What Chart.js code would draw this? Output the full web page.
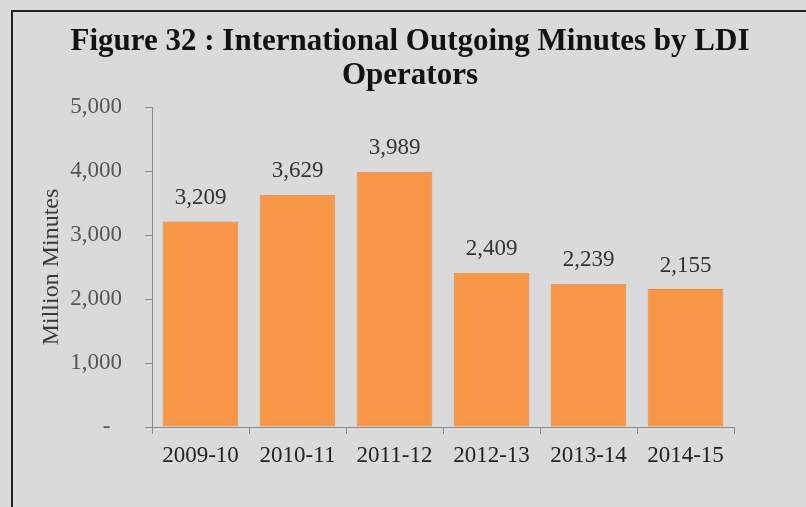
<!DOCTYPE html>
<html>
<head>
<meta charset="utf-8">
<title>International Outgoing Minutes by LDI Operators</title>
<script src="https://cdn.jsdelivr.net/npm/chart.js@4"></script>
<style>
  html, body { margin: 0; padding: 0; background: #dadada; }
  #wrap { width: 806px; height: 507px; position: relative; }
</style>
</head>
<body>
<div id="wrap"><canvas id="myChart" width="806" height="507"></canvas></div>
<script>
const years = ['2009-10', '2010-11', '2011-12', '2012-13', '2013-14', '2014-15'];
const minutes = [3209, 3629, 3989, 2409, 2239, 2155];
const titleLines = ['Figure 32 : International Outgoing Minutes by LDI', 'Operators'];
const yTicks = [0, 1000, 2000, 3000, 4000, 5000];

const SERIF = '"Liberation Serif", "Times New Roman", serif';

// gray card with the dark rule along top and left
const frame = {
  id: 'frame',
  beforeDraw(chart) {
    const c = chart.ctx;
    c.save();
    c.fillStyle = '#dadada';
    c.fillRect(0, 0, chart.width, chart.height);
    c.strokeStyle = '#222';
    c.lineWidth = 2;
    c.beginPath();
    c.moveTo(12, 507);
    c.lineTo(12, 11);
    c.lineTo(806, 11);
    c.stroke();
    c.restore();
  }
};

const heading = {
  id: 'heading',
  afterDraw(chart) {
    const c = chart.ctx;
    c.save();
    c.fillStyle = '#111';
    c.font = 'bold 31px ' + SERIF;
    c.textAlign = 'center';
    c.textBaseline = 'alphabetic';
    c.fillText(titleLines[0], 410, 50);
    c.fillText(titleLines[1], 410, 84);
    c.restore();
  }
};

const valueLabels = {
  id: 'valueLabels',
  afterDatasetsDraw(chart) {
    const c = chart.ctx;
    const meta = chart.getDatasetMeta(0);
    c.save();
    c.fillStyle = '#333';
    c.font = '23px ' + SERIF;
    c.textAlign = 'center';
    c.textBaseline = 'bottom';
    meta.data.forEach((bar, i) => {
      c.fillText(minutes[i].toLocaleString('en-US'), bar.x, bar.y - 12);
    });
    c.restore();
  }
};

const ctx = document.getElementById('myChart');

new Chart(ctx, {
  type: 'bar',
  data: {
    labels: years,
    datasets: [{
      label: 'Million Minutes',
      data: minutes,
      backgroundColor: '#f79646',
      borderColor: '#e38a40',
      borderWidth: 1,
      barPercentage: 0.78,
      categoryPercentage: 1
    }]
  },
  options: {
    responsive: false,
    animation: false,
    layout: {
      padding: { top: 107, right: 72, bottom: 0, left: 0 }
    },
    plugins: {
      legend: { display: false },
      tooltip: { enabled: false }
    },
    scales: {
      x: {
        offset: true,
        afterFit(scale) { scale.height = 80; },
        border: { color: '#8a8a8a', width: 1 },
        grid: {
          offset: true,
          drawOnChartArea: false,
          drawTicks: true,
          tickLength: 7,
          color: '#8a8a8a'
        },
        ticks: {
          color: '#222',
          padding: 8,
          font: { family: SERIF, size: 23 }
        }
      },
      y: {
        min: 0,
        max: 5000,
        afterFit(scale) { scale.width = 152; },
        afterBuildTicks(scale) { scale.ticks = yTicks.map(v => ({ value: v })); },
        border: { color: '#8a8a8a', width: 1 },
        grid: {
          drawOnChartArea: false,
          drawTicks: true,
          tickLength: 7,
          color: '#8a8a8a'
        },
        ticks: {
          color: '#555',
          padding: 23,
          font: { family: SERIF, size: 23 },
          callback: v => v === 0 ? '-  ' : v.toLocaleString('en-US')
        },
        title: {
          display: true,
          text: 'Million Minutes',
          color: '#3a3a3a',
          padding: { top: 37, bottom: 0 },
          font: { family: SERIF, size: 24 }
        }
      }
    }
  },
  plugins: [frame, valueLabels, heading]
});
</script>
</body>
</html>
